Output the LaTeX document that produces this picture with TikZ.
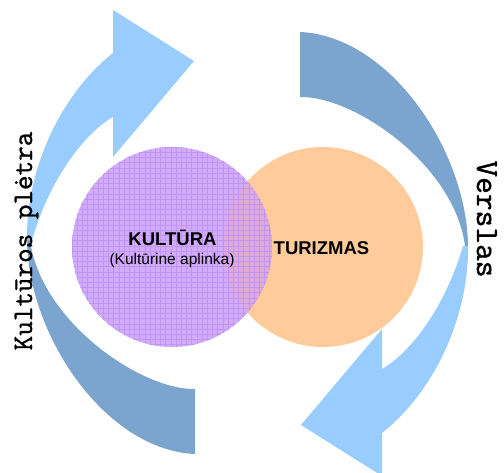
\documentclass[tikz,border=0pt]{standalone}
\usepackage{fontspec}
\setmainfont{Liberation Sans}
\newfontfamily\monofnt[FakeBold=1.2]{Latin Modern Mono}

\definecolor{lightarrow}{HTML}{99CCFF}
\definecolor{darkarrow}{HTML}{7BA5CE}
\definecolor{kultcol}{HTML}{D2ABFA}
\definecolor{kultgrid}{HTML}{C095F4}
\definecolor{turcol}{HTML}{FFCB9A}
\definecolor{bothcol}{HTML}{DFAAD8}

\begin{document}
\begin{tikzpicture}[x=1pt,y=-1pt,
    lightarr/.style={fill=lightarrow},
    darkarr/.style={fill=darkarrow},
    bigword/.style={font=\bfseries\fontsize{18.5}{20}\selectfont, inner sep=0pt},
    sideword/.style={font=\monofnt\fontsize{28.3}{30}\selectfont, inner sep=0pt}]
  \useasboundingbox (0,0) rectangle (504,473);

  \foreach \ang in {0,180} {
    \begin{scope}[rotate around={\ang:(247.5,243)}]
      % Arrow with head
      \fill[lightarr] (27,240) .. controls (26,170) and (60,95) .. (113,53)
        -- (113,10) -- (194,61) -- (113,157) -- (113,117)
        .. controls (85,133) and (50,178) .. (32,240) -- cycle;
      % Arrow with flat end
      \fill[darkarr] (27,240) .. controls (28,335) and (105,450) .. (195,454)
        -- (195,389) .. controls (140,390) and (40,320) .. (30,240) -- cycle;
    \end{scope}
  }

  % Circles
  \fill[turcol] (323,247) circle (100);
  \fill[kultcol] (172,247) circle (100);
  \begin{scope}
    \clip (172,247) circle (100);
    \fill[bothcol] (323,247) circle (100);
    % Grid
    \foreach \gx in {72,77.2,...,274}
      \draw[kultgrid, line width=0.45pt] (\gx,145) -- (\gx,349);
    \foreach \gy in {147,152.2,...,349}
      \draw[kultgrid, line width=0.45pt] (70,\gy) -- (274,\gy);
  \end{scope}

  % Labels
  \node[bigword, anchor=base] (kultura) at (172.5,246) {KULTŪRA};
  \node[font=\fontsize{15.5}{17}\selectfont, inner sep=0pt, anchor=base] (aplinka) at (172,265) {(Kultūrinė aplinka)};
  \node[bigword, anchor=base] (turizmas) at (321.5,255) {TURIZMAS};
  \node[sideword, rotate=90, anchor=base] (pletra) at (32,241) {Kultūros plėtra};
  \node[sideword, rotate=-90, anchor=base, font=\monofnt\fontsize{32.5}{34}\selectfont] (verslas) at (477,219) {Verslas};
\end{tikzpicture}
\end{document}
